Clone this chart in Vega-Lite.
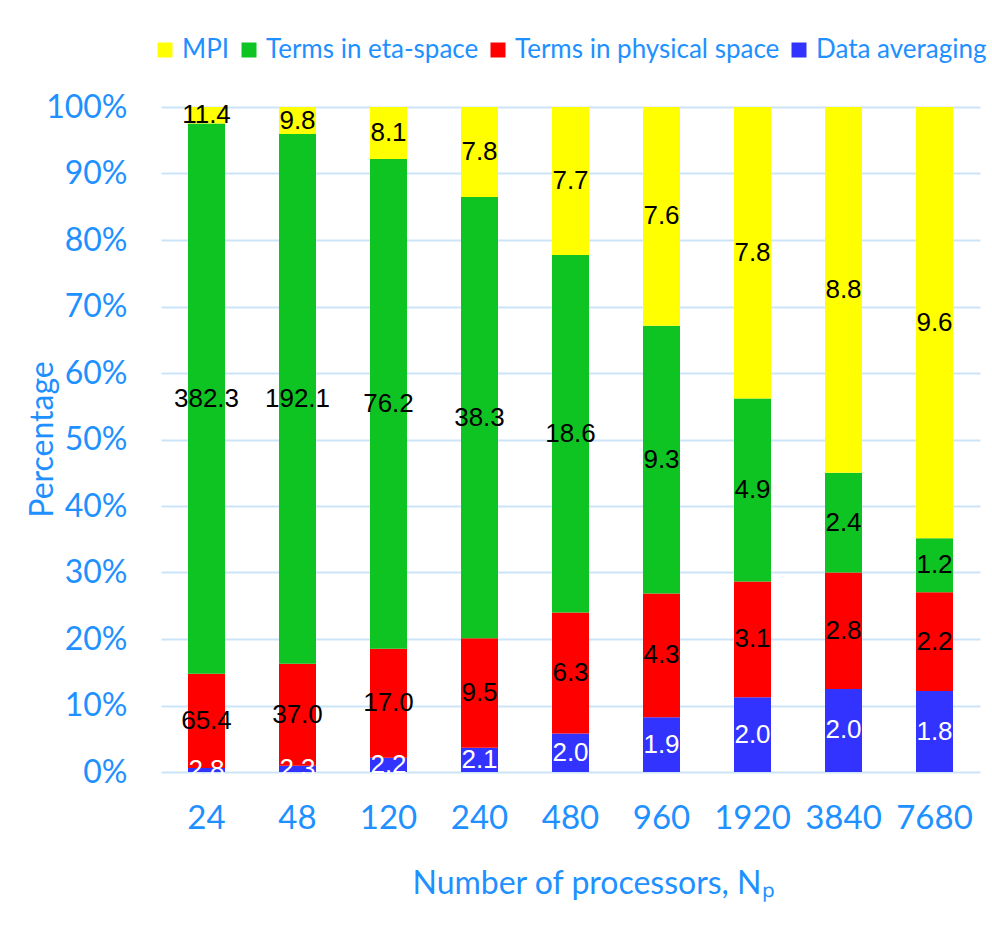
{
  "$schema": "https://vega.github.io/schema/vega-lite/v6.json",
  "autosize": {"type": "none"},
  "padding": {"left": 161, "top": 107, "right": 12, "bottom": 153},
  "width": 819,
  "height": 665,
  "background": "white",
  "data": {
    "values": [
      {"np": "24", "component": "Data averaging", "rank": 1, "value": 2.8},
      {"np": "24", "component": "Terms in physical space", "rank": 2, "value": 65.4},
      {"np": "24", "component": "Terms in eta-space", "rank": 3, "value": 382.3},
      {"np": "24", "component": "MPI", "rank": 4, "value": 11.4},
      {"np": "48", "component": "Data averaging", "rank": 1, "value": 2.3},
      {"np": "48", "component": "Terms in physical space", "rank": 2, "value": 37.0},
      {"np": "48", "component": "Terms in eta-space", "rank": 3, "value": 192.1},
      {"np": "48", "component": "MPI", "rank": 4, "value": 9.8},
      {"np": "120", "component": "Data averaging", "rank": 1, "value": 2.2},
      {"np": "120", "component": "Terms in physical space", "rank": 2, "value": 17.0},
      {"np": "120", "component": "Terms in eta-space", "rank": 3, "value": 76.2},
      {"np": "120", "component": "MPI", "rank": 4, "value": 8.1},
      {"np": "240", "component": "Data averaging", "rank": 1, "value": 2.1},
      {"np": "240", "component": "Terms in physical space", "rank": 2, "value": 9.5},
      {"np": "240", "component": "Terms in eta-space", "rank": 3, "value": 38.3},
      {"np": "240", "component": "MPI", "rank": 4, "value": 7.8},
      {"np": "480", "component": "Data averaging", "rank": 1, "value": 2.0},
      {"np": "480", "component": "Terms in physical space", "rank": 2, "value": 6.3},
      {"np": "480", "component": "Terms in eta-space", "rank": 3, "value": 18.6},
      {"np": "480", "component": "MPI", "rank": 4, "value": 7.7},
      {"np": "960", "component": "Data averaging", "rank": 1, "value": 1.9},
      {"np": "960", "component": "Terms in physical space", "rank": 2, "value": 4.3},
      {"np": "960", "component": "Terms in eta-space", "rank": 3, "value": 9.3},
      {"np": "960", "component": "MPI", "rank": 4, "value": 7.6},
      {"np": "1920", "component": "Data averaging", "rank": 1, "value": 2.0},
      {"np": "1920", "component": "Terms in physical space", "rank": 2, "value": 3.1},
      {"np": "1920", "component": "Terms in eta-space", "rank": 3, "value": 4.9},
      {"np": "1920", "component": "MPI", "rank": 4, "value": 7.8},
      {"np": "3840", "component": "Data averaging", "rank": 1, "value": 2.0},
      {"np": "3840", "component": "Terms in physical space", "rank": 2, "value": 2.8},
      {"np": "3840", "component": "Terms in eta-space", "rank": 3, "value": 2.4},
      {"np": "3840", "component": "MPI", "rank": 4, "value": 8.8},
      {"np": "7680", "component": "Data averaging", "rank": 1, "value": 1.8},
      {"np": "7680", "component": "Terms in physical space", "rank": 2, "value": 2.2},
      {"np": "7680", "component": "Terms in eta-space", "rank": 3, "value": 1.2},
      {"np": "7680", "component": "MPI", "rank": 4, "value": 9.6}
    ]
  },
  "encoding": {
    "x": {
      "field": "np",
      "type": "nominal",
      "sort": null,
      "scale": {"paddingInner": 0, "paddingOuter": 0},
      "axis": {
        "labelAngle": 0,
        "labelFont": "Lato",
        "labelFontSize": 33,
        "labelColor": "#1E90FF",
        "labelPadding": 30,
        "ticks": false,
        "domain": false,
        "title": "Number of processors, Nₚ",
        "titleFont": "Lato",
        "titleFontSize": 32,
        "titleFontWeight": "normal",
        "titleColor": "#1E90FF",
        "titleX": 432,
        "titleY": 111,
        "titleBaseline": "middle",
        "titleAlign": "center"
      }
    },
    "y": {
      "field": "value",
      "type": "quantitative",
      "stack": "normalize",
      "axis": {
        "values": [0, 0.1, 0.2, 0.3, 0.4, 0.5, 0.6, 0.7, 0.8, 0.9, 1],
        "format": ".0%",
        "labelFont": "Lato",
        "labelFontSize": 32,
        "labelColor": "#1E90FF",
        "labelPadding": 34,
        "ticks": false,
        "domain": false,
        "gridColor": "#CCE4F8",
        "gridWidth": 2,
        "title": "Percentage",
        "titleFont": "Lato",
        "titleFontSize": 32,
        "titleFontWeight": "normal",
        "titleColor": "#1E90FF",
        "titleX": -119,
        "titleY": 332,
        "titleAngle": -90,
        "titleBaseline": "middle",
        "titleAlign": "center"
      }
    },
    "order": {"field": "rank", "type": "quantitative", "sort": "ascending"}
  },
  "layer": [
    {
      "mark": {"type": "bar", "width": 37},
      "encoding": {
        "color": {
          "field": "component",
          "type": "nominal",
          "scale": {
            "domain": ["MPI", "Terms in eta-space", "Terms in physical space", "Data averaging"],
            "range": ["#FFFF00", "#0EC423", "#FF0000", "#3333FF"]
          },
          "legend": {
            "title": null,
            "orient": "none",
            "direction": "horizontal",
            "legendX": -9,
            "legendY": -70,
            "symbolType": "square",
            "symbolSize": 225,
            "symbolStrokeWidth": 0,
            "labelFont": "Lato",
            "labelFontSize": 26,
            "labelColor": "#1E90FF",
            "labelOffset": 4,
            "columnPadding": 6,
            "padding": 0,
            "labelLimit": 400
          }
        }
      }
    },
    {
      "mark": {"type": "text", "font": "Liberation Sans", "fontSize": 26, "baseline": "middle"},
      "encoding": {
        "y": {"field": "value", "type": "quantitative", "stack": "normalize", "bandPosition": 0.5},
        "color": {
          "field": "component",
          "type": "nominal",
          "scale": {
            "domain": ["MPI", "Terms in eta-space", "Terms in physical space", "Data averaging"],
            "range": ["#000000", "#000000", "#000000", "#FFFFFF"]
          },
          "legend": null
        },
        "text": {"field": "value", "type": "quantitative", "format": ".1f"}
      }
    }
  ],
  "resolve": {"scale": {"color": "independent"}},
  "config": {"view": {"stroke": null}}
}
